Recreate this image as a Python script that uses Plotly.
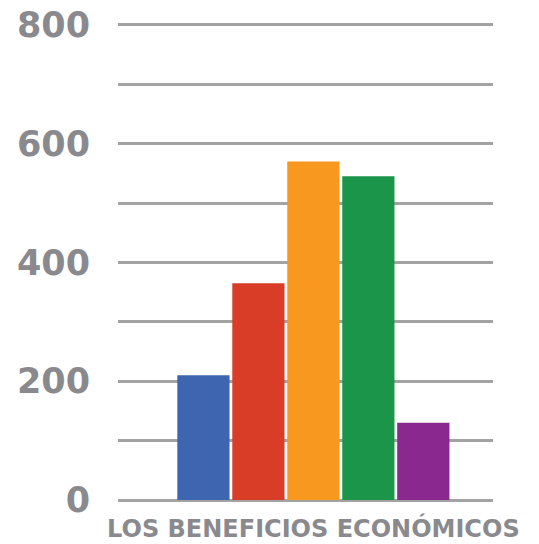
import plotly.graph_objects as go

category = ["LOS BENEFICIOS ECONÓMICOS"]
series_names = ["Serie 1", "Serie 2", "Serie 3", "Serie 4", "Serie 5"]
series_values = [210, 365, 570, 545, 130]
series_colors = ["#3e66b0", "#d93d27", "#f8981e", "#1a9549", "#8b2890"]
tick_values = [0, 100, 200, 300, 400, 500, 600, 700, 800]
tick_labels = ["0", "", "200", "", "400", "", "600", "", "800"]

fig = go.Figure()
for name, val, col in zip(series_names, series_values, series_colors):
    fig.add_trace(go.Bar(x=[0], y=[val], name=name, marker_color=col,
                         marker_line_width=0))

fig.update_layout(
    width=539, height=544,
    margin=dict(l=118, r=46, t=19, b=44, autoexpand=False),
    paper_bgcolor="white", plot_bgcolor="white",
    barmode="group", bargap=0.267, bargroupgap=0.05,
    showlegend=False,
)
fig.update_xaxes(range=[-0.521, 0.479], tickvals=[0], ticktext=category,
                 showgrid=False, zeroline=False, showline=False, ticks="",
                 automargin=False, ticklabelstandoff=12, ticklabeloverflow="allow",
                 tickfont=dict(family="DejaVu Sans", size=24, color="#8a8a8e", weight="bold"))
fig.update_yaxes(range=[0, 810], tickvals=tick_values, ticktext=tick_labels,
                 showgrid=True, gridcolor="#a3a3a3", gridwidth=2.5,
                 zeroline=True, zerolinecolor="#a3a3a3", zerolinewidth=2.5,
                 showline=False, ticks="", ticklabelstandoff=27, automargin=False,
                 ticklabeloverflow="allow",
                 tickfont=dict(family="DejaVu Sans", size=35, color="#8a8a8e", weight="bold"))

fig.write_html("out.html", config={"displayModeBar": False},
               post_script="document.body.style.margin='0';")
